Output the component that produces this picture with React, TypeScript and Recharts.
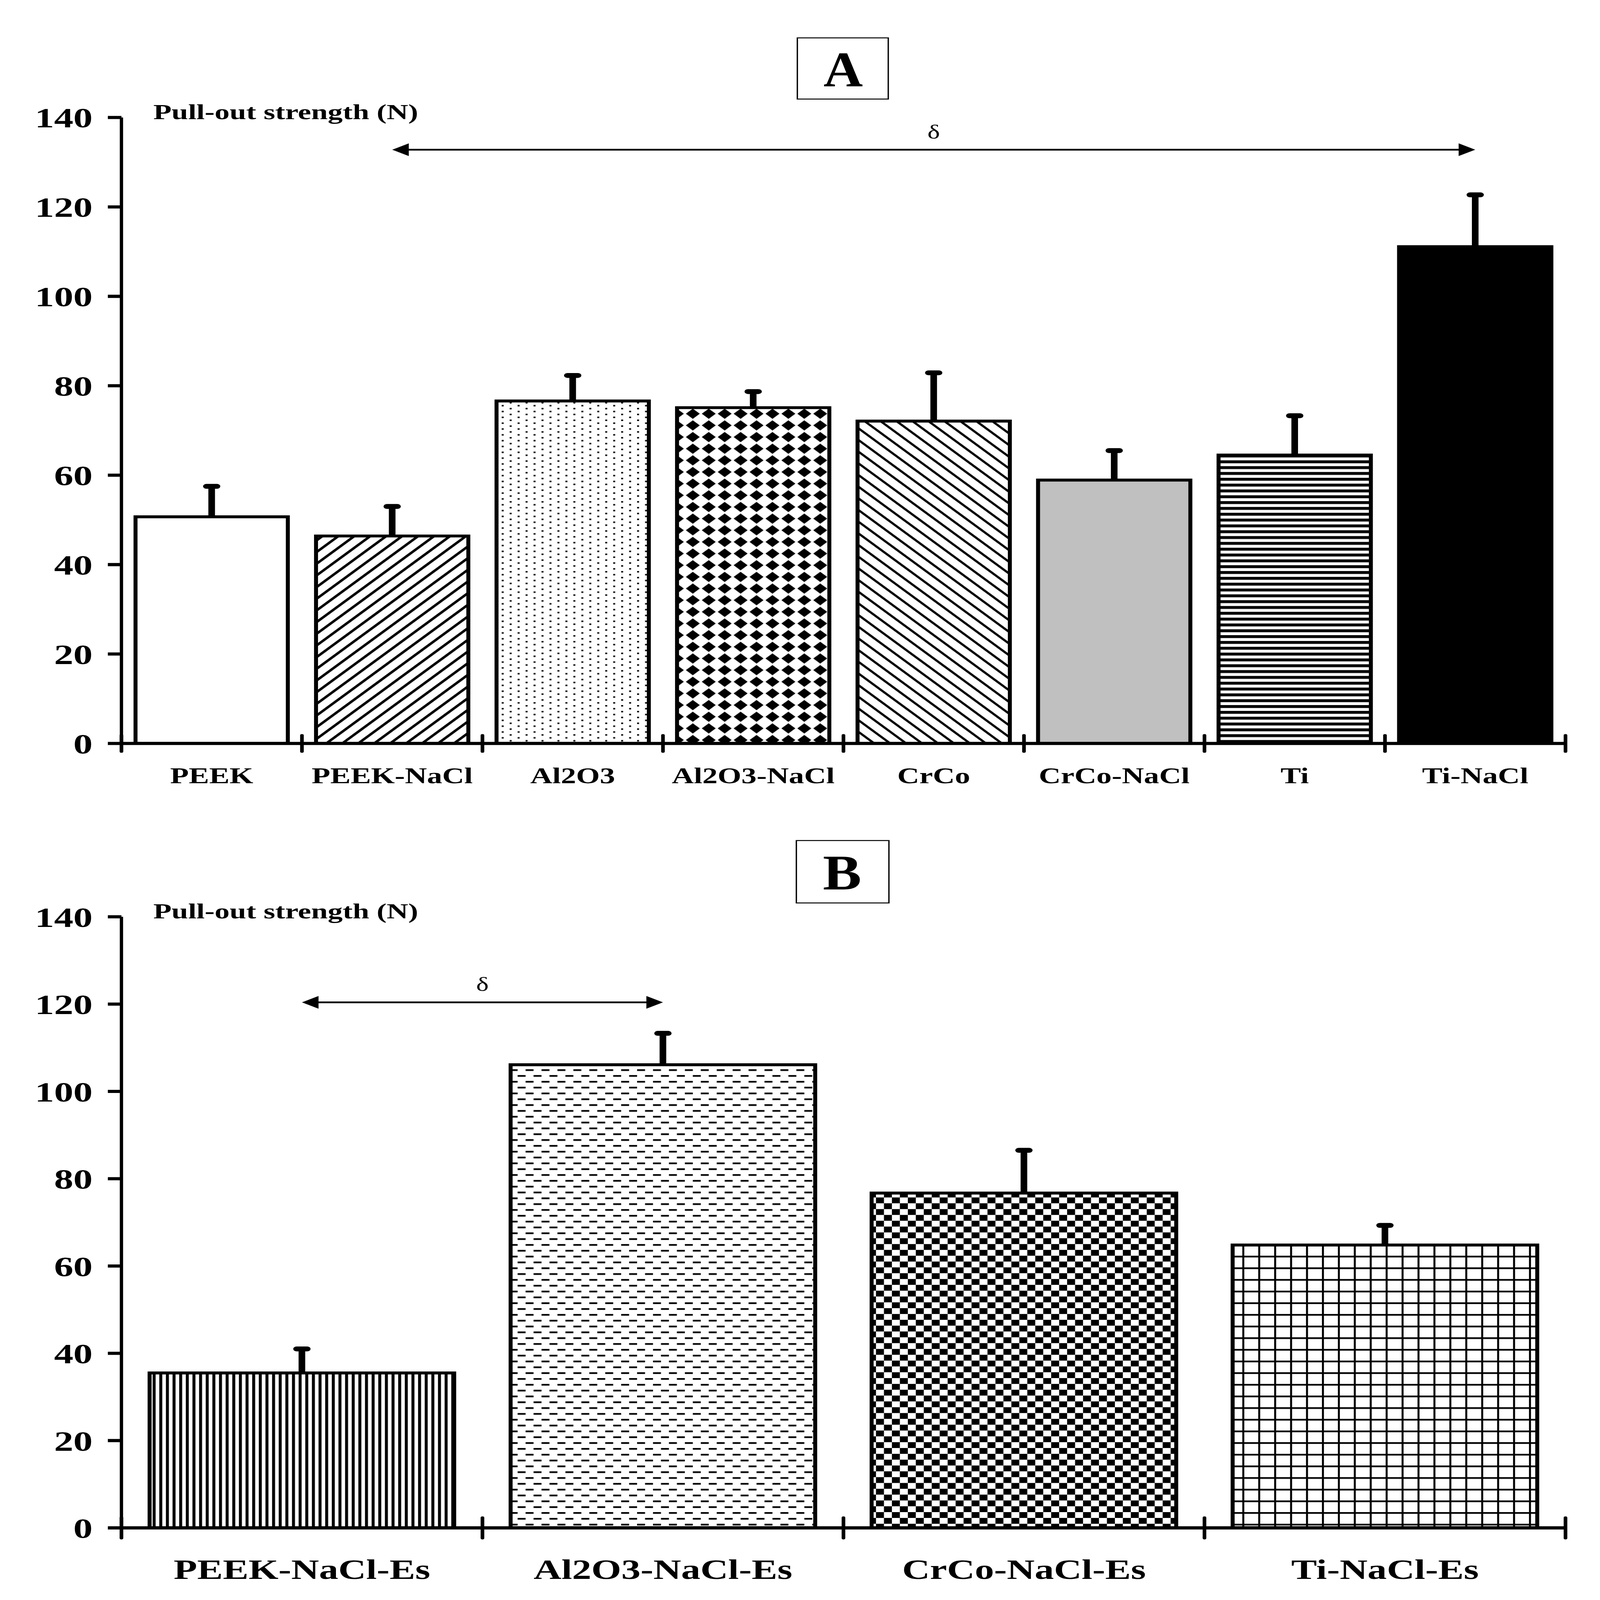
import React from 'react';
import { BarChart, Bar, XAxis, YAxis, Cell, ReferenceLine } from 'recharts';

// ---------- data ----------
const categoriesA = ['PEEK', 'PEEK-NaCl', 'Al2O3', 'Al2O3-NaCl', 'CrCo', 'CrCo-NaCl', 'Ti', 'Ti-NaCl'];
const meansA = [50.7, 46.4, 76.6, 75.1, 72.1, 58.9, 64.5, 111.1];
const errorsA = [6.8, 6.6, 5.7, 3.6, 10.8, 6.6, 8.8, 11.6];

const categoriesB = ['PEEK-NaCl-Es', 'Al2O3-NaCl-Es', 'CrCo-NaCl-Es', 'Ti-NaCl-Es'];
const meansB = [35.5, 106.1, 76.7, 64.8];
const errorsB = [5.5, 7.2, 9.8, 4.5];

const yTicks = [0, 20, 40, 60, 80, 100, 120, 140];

// significance brackets: between two groups, at a given value
const sigA = { from: 'PEEK-NaCl', to: 'Ti-NaCl', y: 132.8, label: 'δ' };
const sigB = { from: 'PEEK-NaCl-Es', to: 'Al2O3-NaCl-Es', y: 120.4, label: 'δ' };

const yLabel = 'Pull-out strength (N)';

// ---------- styles ----------
const FONT = "'Liberation Serif', 'Times New Roman', serif";
const fillsA = ['#ffffff', 'url(#pDiagUp)', 'url(#pDots)', 'url(#pDiamond)', 'url(#pDiagDown)', '#c0c0c0', 'url(#pHoriz)', '#000000'];
const fillsB = ['url(#pVert)', 'url(#pDash)', 'url(#pChecker)', 'url(#pGrid)'];

const PAGE_W = 4822;
const PAGE_H = 6590;

const ErrorShape = (props: any) => {
  const { x, y, width, height } = props;
  if (x == null || y == null || height == null) return null;
  const cx = x + width / 2;
  return (
    <g>
      <line x1={cx} y1={y + height} x2={cx} y2={y} stroke="#000" strokeWidth={20} />
      <line x1={cx - 16} y1={y} x2={cx + 16} y2={y} stroke="#000" strokeWidth={20} strokeLinecap="round" />
    </g>
  );
};

const ArrowShape = (p: any) => {
  const x1 = Number(p.x1), y1 = Number(p.y1), x2 = Number(p.x2), y2 = Number(p.y2);
  if (!isFinite(x1) || !isFinite(x2)) return null;
  const L = 50, H = 26;
  return (
    <g>
      <line x1={x1 + L - 4} y1={y1} x2={x2 - L + 4} y2={y2} stroke="#000" strokeWidth={7} />
      <polygon points={`${x1},${y1} ${x1 + L},${y1 - H} ${x1 + L},${y1 + H}`} fill="#000" />
      <polygon points={`${x2},${y2} ${x2 - L},${y2 - H} ${x2 - L},${y2 + H}`} fill="#000" />
    </g>
  );
};

// short tick crossing the category axis at a band boundary
const makeEdgeTick = (len: number) => (p: any) => {
  const x = Number(p.x1);
  const yb = Math.max(Number(p.y1), Number(p.y2));
  if (!isFinite(x) || !isFinite(yb)) return null;
  return <line x1={x} x2={x} y1={yb - len} y2={yb + len} stroke="#000" strokeWidth={11} strokeLinecap="round" />;
};

type PanelProps = {
  categories: string[];
  means: number[];
  errors: number[];
  fills: string[];
  sig: { from: string; to: string; y: number; label: string };
  width: number;
  height: number;
  margin: { top: number; right: number; bottom: number; left: number };
  xFont: number;
  xMargin: number;
  xTickLen: number;
};

function Panel(p: PanelProps) {
  const data = p.categories.map((c, i) => ({ name: c, mean: p.means[i], err: p.errors[i] }));
  const edgeTick = makeEdgeTick(p.xTickLen);
  const last = p.categories[p.categories.length - 1];
  return (
    <BarChart width={p.width} height={p.height} data={data} margin={p.margin} barCategoryGap="7.8%">
      <XAxis
        dataKey="name"
        height={1}
        tickLine={false}
        tickSize={0}
        tickMargin={p.xMargin}
        interval={0}
        axisLine={{ stroke: '#000', strokeWidth: 13 }}
        tick={{ fill: '#000', fontSize: p.xFont, fontWeight: 'bold', fontFamily: FONT }}
      />
      <YAxis
        domain={[0, 140]}
        allowDataOverflow
        ticks={yTicks}
        interval={0}
        width={1}
        tickSize={41}
        tickMargin={46}
        axisLine={{ stroke: '#000', strokeWidth: 10 }}
        tickLine={{ stroke: '#000', strokeWidth: 13 }}
        tick={{ fill: '#000', fontSize: 116, fontWeight: 'bold', fontFamily: FONT }}
      />
      <YAxis
        yAxisId="m"
        mirror
        domain={[0, 140]}
        allowDataOverflow
        ticks={yTicks}
        interval={0}
        width={1}
        tickSize={45}
        tick={false}
        axisLine={false}
        tickLine={{ stroke: '#000', strokeWidth: 13 }}
      />
      <Bar dataKey="mean" stackId="s" stroke="#000" strokeWidth={12} isAnimationActive={false}>
        {data.map((d, i) => (
          <Cell key={d.name} fill={p.fills[i]} stroke="#000" strokeWidth={12} />
        ))}
      </Bar>
      <Bar dataKey="err" stackId="s" fill="none" shape={ErrorShape} isAnimationActive={false} />
      {p.categories.map((c) => (
        <ReferenceLine key={`edge-${c}`} x={c} position="start" shape={edgeTick} />
      ))}
      <ReferenceLine key="edge-end" x={last} position="end" shape={edgeTick} />
      <ReferenceLine
        segment={[{ x: p.sig.from, y: p.sig.y }, { x: p.sig.to, y: p.sig.y }]}
        shape={ArrowShape}
        ifOverflow="visible"
        label={{ value: p.sig.label, position: 'top', offset: 46, fontSize: 80, fill: '#000', fontFamily: FONT }}
      />
    </BarChart>
  );
}

function Patterns() {
  return (
    <svg width={0} height={0} style={{ position: 'absolute' }}>
      <defs>
        <pattern id="pDiagUp" width={34} height={34} patternUnits="userSpaceOnUse" patternTransform="rotate(45)">
          <rect x={0} y={0} width={34} height={34} fill="#fff" />
          <rect x={0} y={0} width={9} height={34} fill="#000" />
        </pattern>
        <pattern id="pDiagDown" width={34} height={34} patternUnits="userSpaceOnUse" patternTransform="rotate(-45)">
          <rect x={0} y={0} width={34} height={34} fill="#fff" />
          <rect x={0} y={0} width={8} height={34} fill="#000" />
        </pattern>
        <pattern id="pDots" width={48} height={24} patternUnits="userSpaceOnUse">
          <rect x={0} y={0} width={48} height={24} fill="#fff" />
          <rect x={0} y={0} width={6} height={6} fill="#000" />
          <rect x={24} y={12} width={6} height={6} fill="#000" />
        </pattern>
        <pattern id="pDiamond" width={48} height={48} patternUnits="userSpaceOnUse">
          <rect x={0} y={0} width={48} height={48} fill="#fff" />
          <polygon points="24,3 45,24 24,45 3,24" fill="#000" />
        </pattern>
        <pattern id="pHoriz" width={10} height={24} patternUnits="userSpaceOnUse">
          <rect x={0} y={0} width={10} height={24} fill="#fff" />
          <rect x={0} y={0} width={10} height={12} fill="#000" />
        </pattern>
        <pattern id="pVert" width={20} height={10} patternUnits="userSpaceOnUse">
          <rect x={0} y={0} width={20} height={10} fill="#fff" />
          <rect x={0} y={0} width={9} height={10} fill="#000" />
        </pattern>
        <pattern id="pDash" width={48} height={48} patternUnits="userSpaceOnUse">
          <rect x={0} y={0} width={48} height={48} fill="#fff" />
          <rect x={0} y={0} width={24} height={7} fill="#000" />
          <rect x={24} y={24} width={24} height={7} fill="#000" />
        </pattern>
        <pattern id="pChecker" width={48} height={48} patternUnits="userSpaceOnUse">
          <rect x={0} y={0} width={48} height={48} fill="#fff" />
          <rect x={0} y={0} width={24} height={24} fill="#000" />
          <rect x={24} y={24} width={24} height={24} fill="#000" />
        </pattern>
        <pattern id="pGrid" width={48} height={48} patternUnits="userSpaceOnUse">
          <rect x={0} y={0} width={48} height={48} fill="#fff" />
          <rect x={0} y={0} width={6} height={48} fill="#000" />
          <rect x={0} y={0} width={48} height={7} fill="#000" />
        </pattern>
      </defs>
    </svg>
  );
}

export default function App() {
  // the browser may cap the window below the requested page size: fit the page into what is available
  const vw = typeof window !== 'undefined' && window.innerWidth ? window.innerWidth : PAGE_W;
  const vh = typeof window !== 'undefined' && window.innerHeight ? window.innerHeight : PAGE_H;
  const sx = Math.min(1, vw / PAGE_W);
  const sy = Math.min(1, vh / PAGE_H);
  return (
    <div style={{ position: 'absolute', left: 0, top: 0, width: PAGE_W * sx, height: PAGE_H * sy, overflow: 'hidden', background: '#fff' }}>
      <div style={{ position: 'absolute', left: 0, top: 0, width: PAGE_W, height: PAGE_H, background: '#fff', transform: `scale(${sx}, ${sy})`, transformOrigin: '0 0' }}>
        <Patterns />
        <div style={{ position: 'absolute', left: 0, top: 0 }}>
          <Panel
            categories={categoriesA}
            means={meansA}
            errors={errorsA}
            fills={fillsA}
            sig={sigA}
            width={PAGE_W}
            height={3300}
            margin={{ top: 484, right: 104, bottom: 237, left: 365 }}
            xFont={92}
            xMargin={98}
            xTickLen={33}
          />
        </div>
        <div style={{ position: 'absolute', left: 0, top: 3300 }}>
          <Panel
            categories={categoriesB}
            means={meansB}
            errors={errorsB}
            fills={fillsB}
            sig={sigB}
            width={PAGE_W}
            height={3290}
            margin={{ top: 476, right: 104, bottom: 296, left: 365 }}
            xFont={116}
            xMargin={128}
            xTickLen={42}
          />
        </div>
        <svg width={PAGE_W} height={PAGE_H} style={{ position: 'absolute', left: 0, top: 0, pointerEvents: 'none' }}>
          <rect x={2403} y={156} width={274} height={252} fill="none" stroke="#000" strokeWidth={4} />
          <text transform="translate(2541,355) scale(0.8,1)" textAnchor="middle" fontFamily={FONT} fontWeight="bold" fontSize={205} fill="#000">A</text>
          <rect x={2400} y={3462} width={279} height={257} fill="none" stroke="#000" strokeWidth={4} />
          <text transform="translate(2538,3663) scale(0.85,1)" textAnchor="middle" fontFamily={FONT} fontWeight="bold" fontSize={205} fill="#000">B</text>
          <text x={462} y={490} fontFamily={FONT} fontWeight="bold" fontSize={90} fill="#000">{yLabel}</text>
          <text x={462} y={3782} fontFamily={FONT} fontWeight="bold" fontSize={90} fill="#000">{yLabel}</text>
        </svg>
      </div>
    </div>
  );
}
